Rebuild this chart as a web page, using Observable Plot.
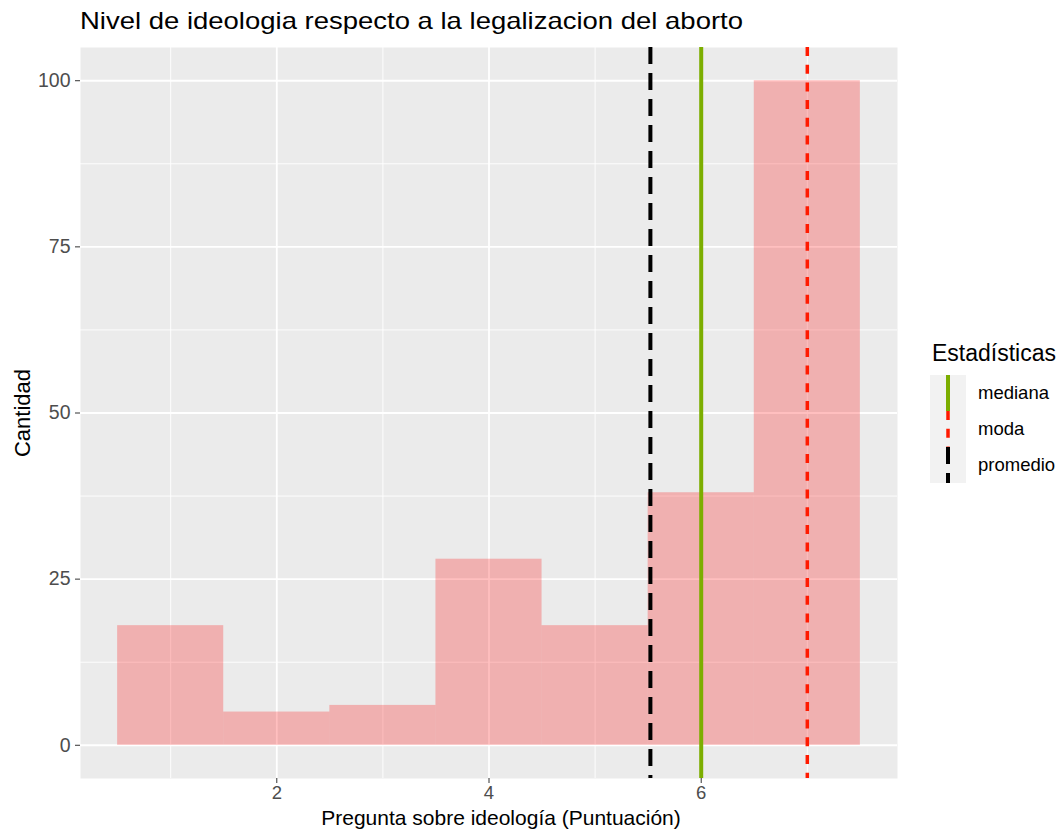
<!DOCTYPE html>
<html>
<head>
<meta charset="utf-8">
<script src="https://cdn.jsdelivr.net/npm/d3@7"></script>
<script src="https://cdn.jsdelivr.net/npm/@observablehq/plot@0.6"></script>
<style>
  body { margin: 0; background: #fff; font-family: "Liberation Sans", Arial, sans-serif; }
  #wrap { position: relative; width: 1059px; height: 835px; overflow: hidden; }
  #title { position: absolute; left: 80px; top: 6px; font-size: 24px; line-height: 30px; color: #000; white-space: nowrap; transform: scaleX(1.145); transform-origin: left center; }
  #chart { position: absolute; left: 0; top: 40px; }
  #legend { position: absolute; left: 930px; top: 340px; }
  #legend .lt { font-size: 23px; line-height: 26px; color: #000; margin-bottom: 9px; margin-left: 2px; white-space: nowrap; }
  .row { display: flex; align-items: center; height: 36px; }
  .key { width: 36px; height: 36px; background: #F2F2F2; display: block; }
  .lab { font-size: 18.5px; color: #000; margin-left: 12px; white-space: nowrap; }
</style>
</head>
<body>
<div id="wrap">
  <div id="title">Nivel de ideologia respecto a la legalizacion del aborto</div>
  <div id="chart"></div>
  <div id="legend"></div>
</div>
<script>
// Data
const puntuacion = [1, 2, 3, 4, 5, 6, 7];
const cantidad = [18, 5, 6, 28, 18, 38, 100];
const xTicks = [2, 4, 6];
const xMinor = [1, 3, 5, 7];
const yTicks = [0, 25, 50, 75, 100];
const yMinor = [12.5, 37.5, 62.5, 87.5];
const statNames = ["mediana", "moda", "promedio"];
const statColors = ["#7CAE00", "#FF1A00", "#000000"];
const statDash = ["none", "9,8.7", "17,9"];
const statWidth = [4, 3.5, 4];

const bins = puntuacion.map((p, i) => ({p, n: cantidad[i]}));
const total = d3.sum(cantidad);
const promedio = d3.sum(bins, d => d.p * d.n) / total;
// median of expanded data
let acc = 0, mediana = null;
for (const b of bins) { acc += b.n; if (mediana === null && acc >= total / 2) mediana = b.p; }
const moda = bins[d3.maxIndex(bins, d => d.n)].p;
const statVals = {mediana, moda, promedio};

const W = 910, H = 795;
const chart = Plot.plot({
  width: W, height: H,
  marginLeft: 80, marginRight: 13, marginTop: 7, marginBottom: 57,
  style: {fontFamily: "Liberation Sans, Arial, sans-serif", fontSize: "18.5px", background: "transparent"},
  x: {domain: [0.15, 7.85]},
  y: {domain: [-5, 105]},
  marks: [
    Plot.frame({fill: "#EBEBEB", stroke: "none"}),
    Plot.gridX(xMinor, {stroke: "#fff", strokeOpacity: 1, strokeWidth: 0.9}),
    Plot.gridY(yMinor, {stroke: "#fff", strokeOpacity: 1, strokeWidth: 0.9}),
    Plot.gridX(xTicks, {stroke: "#fff", strokeOpacity: 1, strokeWidth: 1.8}),
    Plot.gridY(yTicks, {stroke: "#fff", strokeOpacity: 1, strokeWidth: 1.8}),
    Plot.rectY(bins, {x1: d => d.p - 0.5, x2: d => d.p + 0.5, y1: 0, y2: "n", fill: "#FF0000", fillOpacity: 0.25}),
    ...statNames.map((s, i) => Plot.ruleX([statVals[s]], {stroke: statColors[i], strokeWidth: statWidth[i], strokeDasharray: statDash[i] === "none" ? null : statDash[i]})),
    Plot.axisX(xTicks, {tickSize: 5, tickPadding: 2, stroke: "#333", fill: "#4D4D4D", fontSize: 18.5, label: null}),
    Plot.axisY(yTicks, {tickSize: 5, tickPadding: 5, stroke: "#333", fill: "#4D4D4D", fontSize: 19.5, label: null}),
    Plot.text(["Pregunta sobre ideología (Puntuación)"], {frameAnchor: "bottom", dx: 12, dy: 46, fontSize: 21, fill: "#000"}),
    Plot.text(["Cantidad"], {frameAnchor: "left", textAnchor: "middle", dx: -58, rotate: -90, fontSize: 22, fill: "#000"})
  ]
});
document.getElementById("chart").appendChild(chart);

// Legend
const lg = d3.select("#legend");
lg.append("div").attr("class", "lt").text("Estadísticas");
statNames.forEach((s, i) => {
  const row = lg.append("div").attr("class", "row");
  const svg = row.append("svg").attr("class", "key").attr("width", 36).attr("height", 36);
  svg.append("line").attr("x1", 18).attr("x2", 18).attr("y1", 0).attr("y2", 36)
    .attr("stroke", statColors[i]).attr("stroke-width", statWidth[i])
    .attr("stroke-dasharray", statDash[i] === "none" ? null : statDash[i]);
  row.append("div").attr("class", "lab").text(s);
});
</script>
</body>
</html>
